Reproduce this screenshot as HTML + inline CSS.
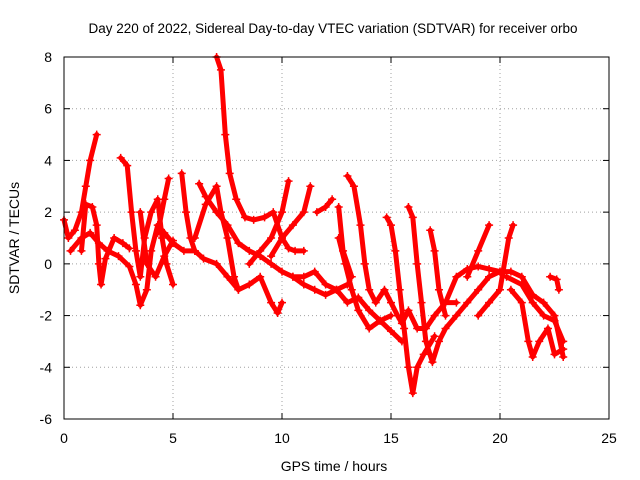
<!DOCTYPE html>
<html><head><meta charset="utf-8"><style>
body{margin:0;background:#fff;}
svg{display:block;font-family:"Liberation Sans",sans-serif;}
</style></head><body>
<svg id="chart" width="640" height="480">
<text x="333" y="33" text-anchor="middle" font-size="13.5">Day 220 of 2022, Sidereal Day-to-day VTEC variation (SDTVAR) for receiver orbo</text>
<text x="334" y="471" text-anchor="middle" font-size="14">GPS time / hours</text>
<text transform="translate(19,238) rotate(-90)" text-anchor="middle" font-size="14">SDTVAR / TECUs</text>
<g id="grid"></g><g id="ticks"></g><g id="series"></g>
<rect x="64" y="57" width="545" height="362" fill="none" stroke="#000" stroke-width="1"/>
</svg>
<script>
const xTicks=[0,5,10,15,20,25];
const yTicks=[-6,-4,-2,0,2,4,6,8];
const tracks=[
[[0,1.7],[0.2,1.0],[0.5,1.3],[0.8,2.0],[1.0,3.0],[1.2,4.0],[1.5,5.0]],
[[0.8,0.5],[1.0,2.3],[1.3,2.2],[1.5,1.5],[1.6,0],[1.7,-0.8],[1.9,0.2],[2.3,1.0],[2.7,0.8],[3.0,0.6]],
[[0.3,0.5],[0.8,1.0],[1.2,1.2],[1.6,0.8],[2.0,0.5],[2.5,0.3],[3.0,-0.1],[3.3,-0.8],[3.5,-1.6],[3.8,-1.0],[4.0,0.5],[4.3,1.5],[4.6,1.2],[5.0,0.8],[5.5,0.5],[6.0,0.5]],
[[2.6,4.1],[2.9,3.8],[3.1,2.0],[3.3,0.5],[3.5,-0.5],[3.7,1.0],[4.0,2.0],[4.3,2.5],[4.5,1.0],[4.7,0.0],[5.0,-0.8]],
[[3.5,2],[3.8,0],[4.2,-0.5],[4.6,0.3],[5.0,0.9]],
[[4.3,1.2],[4.6,2.5],[4.8,3.3]],
[[5.4,3.5],[5.6,2.0],[5.8,1.0],[6.0,0.5],[6.4,0.2],[7.0,0.0],[7.5,-0.5],[8.0,-1.0],[8.5,-0.8],[9.0,-0.5],[9.5,-1.5],[9.8,-1.9],[10.0,-1.5]],
[[6.0,1.0],[6.5,2.3],[7.0,3.0],[7.2,2.0],[7.5,1.0],[7.8,-0.5],[8.0,-1.0]],
[[7.0,8],[7.2,7.5],[7.4,5],[7.6,3.5],[7.9,2.5],[8.3,1.8],[8.7,1.7],[9.2,1.8],[9.6,2.0],[10.0,1.0],[10.3,0.6],[10.6,0.5],[11.0,0.5]],
[[6.2,3.1],[6.5,2.6],[7.0,2.0],[7.5,1.5],[8.0,0.8],[8.5,0.5],[9.0,0.3],[9.5,0.0],[10.0,-0.3],[10.5,-0.5],[11,-0.8],[11.5,-1.0],[12,-1.2],[12.5,-1.0],[13,-0.8]],
[[8.5,0.0],[9.0,0.5],[9.5,1.0],[10,2.0],[10.3,3.2]],
[[9.5,0.3],[10.0,1.0],[10.5,1.5],[11.0,2.0],[11.3,3.0]],
[[10.5,-0.5],[11,-0.5],[11.5,-0.3],[12.0,-0.8],[12.5,-1.0],[13,-1.5],[13.5,-1.3],[14,-1.8],[14.5,-2.2],[15,-2.0]],
[[11.6,2.0],[12.0,2.2],[12.3,2.5]],
[[12.6,1.0],[12.9,0.0],[13.2,-1.0],[13.5,-1.8],[14.0,-2.5],[14.5,-2.2],[15,-2.6],[15.5,-3.0]],
[[13.0,3.4],[13.3,3.0],[13.6,1.5],[13.8,0.0],[14.0,-1.0],[14.3,-1.5],[14.7,-1.0],[15,-1.5],[15.3,-2],[15.5,-2.3],[15.8,-1.8],[16.2,-2.5],[16.6,-2.5],[17,-2.0],[17.5,-1.5],[18,-1.5]],
[[12.6,2.2],[12.8,0.5],[13.2,-0.5]],
[[14.8,1.8],[15.0,1.5],[15.2,0.5],[15.4,-1.0],[15.6,-2.5],[15.8,-4.0],[16.0,-5.0],[16.2,-4.0],[16.5,-3.5],[17,-2.8]],
[[15.8,2.2],[16.0,1.8],[16.2,0.0],[16.4,-1.5],[16.6,-3.0],[16.9,-3.8],[17.2,-3.0],[17.5,-2.5],[18,-2.0],[18.5,-1.5],[19,-1.0],[19.5,-0.5],[20,-0.3]],
[[16.8,1.3],[17.0,0.5],[17.2,-1.0],[17.5,-2.0]],
[[17.5,-1.5],[18,-0.5],[18.5,-0.2],[19,-0.1],[19.5,-0.2],[20,-0.3],[20.5,-0.3],[21,-0.5],[21.5,-1.2],[22,-1.5],[22.5,-2.0],[22.9,-3.6]],
[[18.5,-0.5],[19,0.5],[19.5,1.5]],
[[19.0,-2.0],[19.5,-1.5],[20,-1.0],[20.4,1.0],[20.6,1.5]],
[[20.5,-1.0],[21,-1.5],[21.3,-3.0],[21.5,-3.6],[21.8,-3.0],[22.2,-2.5],[22.5,-3.5],[22.9,-3.3]],
[[20.3,-0.5],[21,-0.8],[21.5,-1.5],[22,-2.0],[22.5,-2.2],[22.9,-3.0]],
[[22.3,-0.5],[22.6,-0.6],[22.7,-1.0]]
];
const NS='http://www.w3.org/2000/svg';
const X0=64,X1=609,Y0=419,Y1=57;
function sx(v){return X0+(v-0)/(25-0)*(X1-X0);}
function sy(v){return Y0-(v+6)/(14)*(Y0-Y1);}
function mk(t,a){const e=document.createElementNS(NS,t);for(const k in a)e.setAttribute(k,a[k]);return e;}
const grid=document.getElementById('grid'),ticks=document.getElementById('ticks'),ser=document.getElementById('series');
xTicks.forEach(v=>{
 const x=sx(v);
 if(v>0&&v<25){const g=mk('line',{x1:x,x2:x,y1:Y1,y2:Y0,stroke:'#a0a0a0','stroke-dasharray':'1,3'});
 
 grid.appendChild(g);}
 ticks.appendChild(mk('line',{x1:x,x2:x,y1:Y0,y2:Y0-6,stroke:'#000'}));
 ticks.appendChild(mk('line',{x1:x,x2:x,y1:Y1,y2:Y1+6,stroke:'#000'}));
 const t=mk('text',{x:x,y:443,'text-anchor':'middle','font-size':14});t.textContent=v;
 
 ticks.appendChild(t);
});
yTicks.forEach(v=>{
 const y=sy(v);
 if(v>-6&&v<8){const g=mk('line',{x1:X0,x2:X1,y1:y,y2:y,stroke:'#a0a0a0','stroke-dasharray':'1,3'});
 
 grid.appendChild(g);}
 ticks.appendChild(mk('line',{x1:X0,x2:X0+6,y1:y,y2:y,stroke:'#000'}));
 ticks.appendChild(mk('line',{x1:X1,x2:X1-6,y1:y,y2:y,stroke:'#000'}));
 const t=mk('text',{x:52,y:y+5,'text-anchor':'end','font-size':14});t.textContent=v;
 
 ticks.appendChild(t);
});
tracks.forEach(tr=>{
 const p=mk('polyline',{points:tr.map(d=>sx(d[0])+','+sy(d[1])).join(' '),fill:'none',stroke:'#f00','stroke-width':5,'stroke-linejoin':'round','stroke-linecap':'round'});
 
 
 ser.appendChild(p);
 tr.forEach(d=>{
  const x=sx(d[0]),y=sy(d[1]);
  const m=mk('path',{d:`M${x-4},${y}H${x+4}M${x},${y-4}V${y+4}`,stroke:'#f00','stroke-width':1.5});
  
  
  ser.appendChild(m);
 });
});
</script>
</body></html>
